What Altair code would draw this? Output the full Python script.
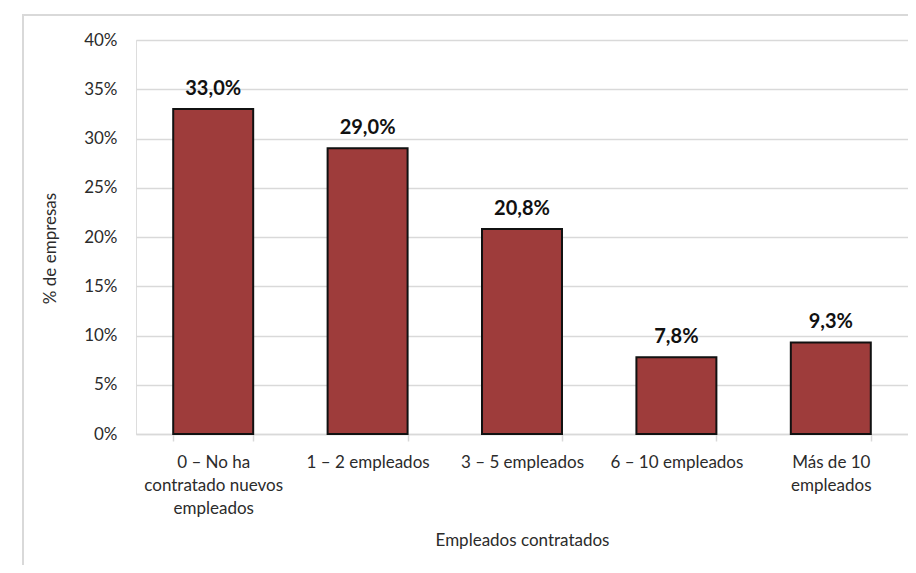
import altair as alt
import pandas as pd

categories = [
    "0 – No ha\ncontratado nuevos\nempleados",
    "1 – 2 empleados",
    "3 – 5 empleados",
    "6 – 10 empleados",
    "Más de 10\nempleados",
]
values = [33.0, 29.0, 20.8, 7.8, 9.3]
y_ticks = [0, 5, 10, 15, 20, 25, 30, 35, 40]

df = pd.DataFrame({"cat": categories, "val": values})

FONT = "Lato"
W, H = 772, 394

x_enc = alt.X(
    "cat:N",
    sort=categories,
    scale=alt.Scale(paddingInner=0.482, paddingOuter=0.241),
    axis=alt.Axis(
        title="Empleados contratados",
        labelExpr="split(datum.label, '\\n')",
        labelAngle=0,
        labelFont=FONT,
        labelFontSize=17,
        labelColor="#2b2b2b",
        labelLineHeight=23,
        labelBaseline="top",
        labelPadding=13,
        tickBand="extent",
        tickSize=7,
        tickColor="#d9d9d9",
        tickWidth=1.5,
        domainColor="#d9d9d9",
        domainWidth=1.5,
        grid=False,
        titleFont=FONT,
        titleFontSize=17,
        titleFontWeight="normal",
        titleColor="#2b2b2b",
        titleX=W / 2,
        titleY=106,
        titleBaseline="middle",
    ),
)

y_enc = alt.Y(
    "val:Q",
    scale=alt.Scale(domain=[0, 40]),
    axis=alt.Axis(
        title="% de empresas",
        values=y_ticks,
        labelExpr="datum.value + '%'",
        labelFont=FONT,
        labelFontSize=17,
        labelColor="#2b2b2b",
        labelPadding=19,
        ticks=False,
        domain=False,
        grid=True,
        gridColor="#d9d9d9",
        gridWidth=1.5,
        titleFont=FONT,
        titleFontSize=17,
        titleFontWeight="normal",
        titleColor="#2b2b2b",
        titleAngle=-90,
        titleX=-86,
        titleY=208,
        titleAlign="center",
        titleBaseline="middle",
    ),
)

frame = alt.Chart(pd.DataFrame({"k": [0]})).mark_rect(
    fill=None, stroke="#d9d9d9", strokeWidth=2
).encode(
    x=alt.value(-113), x2=alt.value(W + 60),
    y=alt.value(-25), y2=alt.value(H + 200),
)

bars = alt.Chart(df).mark_bar(
    color="#9E3C3B", stroke="#111111", strokeWidth=2
).encode(x=x_enc, y=y_enc)

labels = alt.Chart(df).transform_calculate(
    lbl="replace(format(datum.val, '.1f'), '.', ',') + '%'"
).mark_text(
    font=FONT, fontSize=20, fontWeight="bold", color="#111111",
    baseline="alphabetic", dy=-14
).encode(
    x=alt.X("cat:N", sort=categories),
    y="val:Q",
    text="lbl:N",
)

chart = alt.layer(frame, bars, labels).properties(
    width=W, height=H,
    padding={"left": 128, "top": 32, "right": 0, "bottom": 131},
    autosize=alt.AutoSizeParams(type="none"),
).configure_view(stroke=None).configure(background="white")

chart.save("out.html", embed_options={"renderer": "svg", "actions": False})
